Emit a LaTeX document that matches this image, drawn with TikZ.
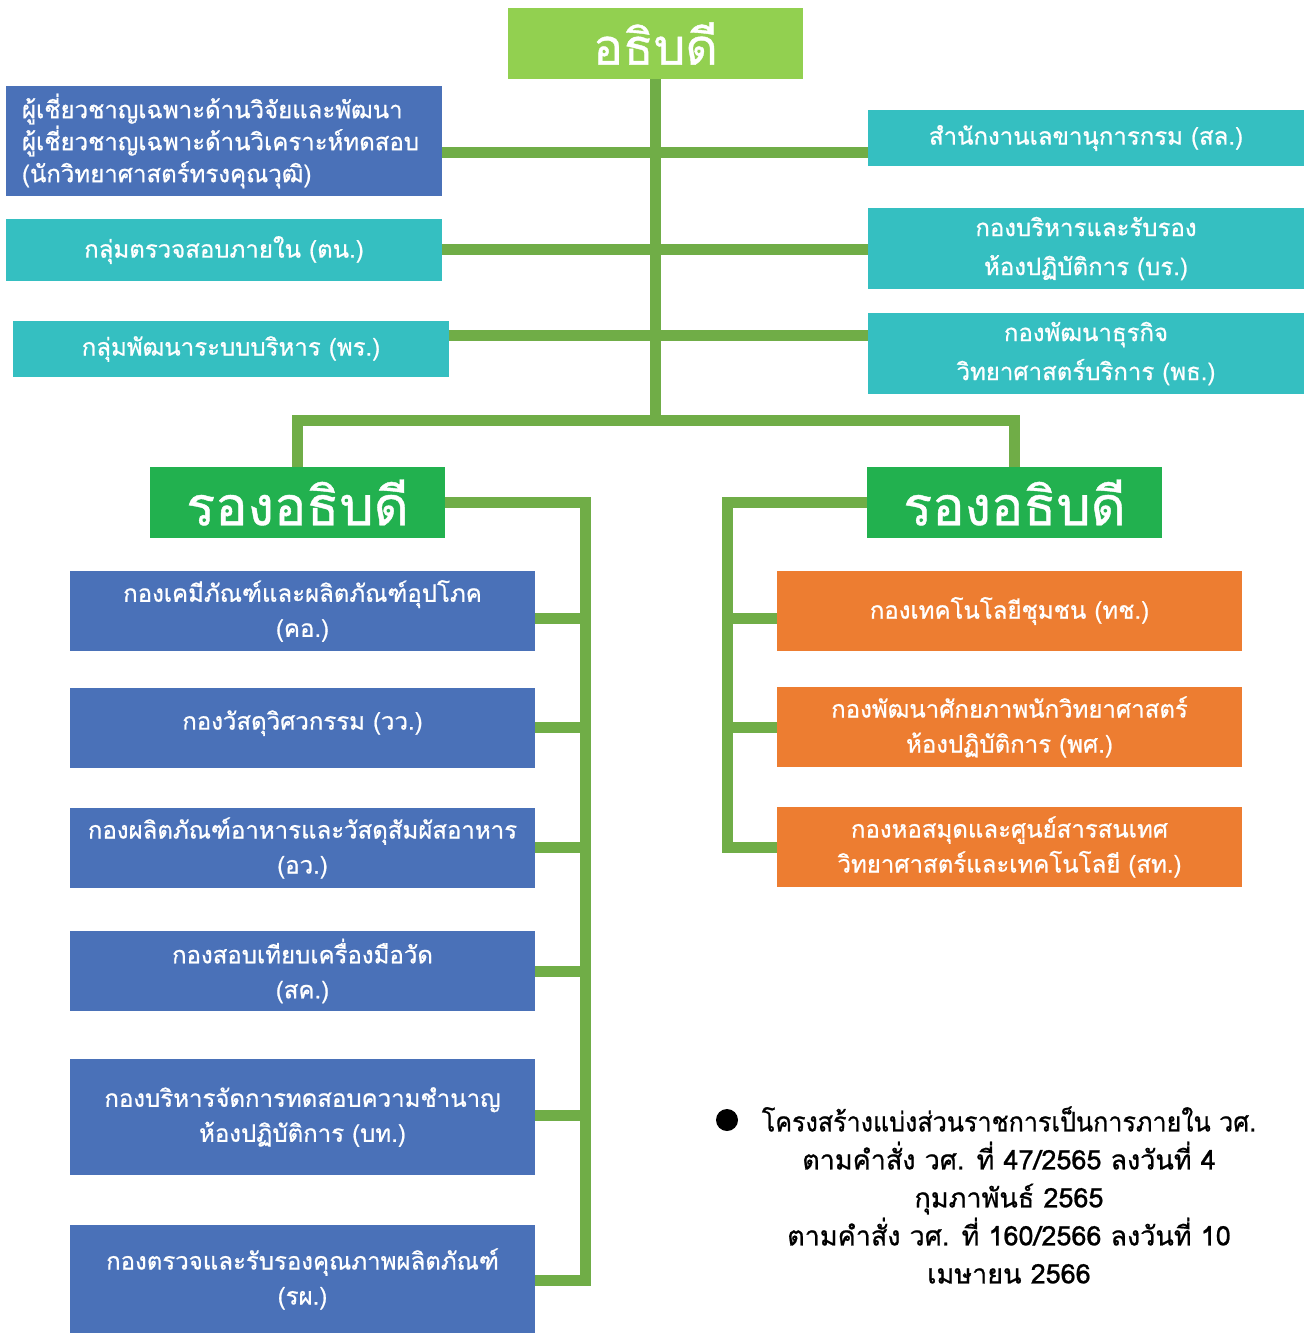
\documentclass[tikz,border=0pt]{standalone}
\usepackage{fontspec}
\setmainfont[Script=Thai, FakeBold=0.8]{Loma}
\definecolor{topgreen}{HTML}{92D050}
\definecolor{vpgreen}{HTML}{22B14F}
\definecolor{linegreen}{HTML}{70AD47}
\definecolor{boxblue}{HTML}{4A71B8}
\definecolor{boxteal}{HTML}{35BFC1}
\definecolor{boxorange}{HTML}{ED7D31}
\tikzset{
  box/.style={inner sep=0pt, text=white, align=center, anchor=center},
  conn/.style={draw=linegreen, line width=11pt},
  txt/.style={font=\fontsize{24}{34}\selectfont},
  txtt/.style={font=\fontsize{24}{35}\selectfont},
}
\begin{document}
\begin{tikzpicture}[x=1pt,y=-1pt]
\useasboundingbox (0,0) rectangle (1312,1334);
\coordinate (hub) at (655.5,420);
\coordinate (t1) at (655.5,152);
\coordinate (t2) at (655.5,249);
\coordinate (t3) at (655.5,335);
\coordinate (lb) at (585,1280);
\coordinate (rb) at (727,847);

% top
\node[box, fill=topgreen, minimum width=295, minimum height=71, font=\fontsize{50}{50}\selectfont] (top) at (655.5,43.5) {อธิบดี};
% left staff
\node[box, fill=boxblue, minimum width=436, minimum height=110, align=left, text width=404, font=\fontsize{24}{32}\selectfont] (a1) at (224,141) {ผู้เชี่ยวชาญเฉพาะด้านวิจัยและพัฒนา\\ผู้เชี่ยวชาญเฉพาะด้านวิเคราะห์ทดสอบ\\(นักวิทยาศาสตร์ทรงคุณวุฒิ)};
\node[box, fill=boxteal, minimum width=436, minimum height=62, txt] (a2) at (224,250) {กลุ่มตรวจสอบภายใน (ตน.)};
\node[box, fill=boxteal, minimum width=436, minimum height=56, txt] (a3) at (231,349) {กลุ่มพัฒนาระบบบริหาร (พร.)};
% right staff
\node[box, fill=boxteal, minimum width=436, minimum height=56, txt] (c1) at (1086,138) {สำนักงานเลขานุการกรม (สล.)};
\node[box, fill=boxteal, minimum width=436, minimum height=81, font=\fontsize{24}{39}\selectfont] (c2) at (1086,248.5) {กองบริหารและรับรอง\\ห้องปฏิบัติการ (บร.)};
\node[box, fill=boxteal, minimum width=436, minimum height=81, font=\fontsize{24}{39}\selectfont] (c3) at (1086,353.5) {กองพัฒนาธุรกิจ\\วิทยาศาสตร์บริการ (พธ.)};
% deputies
\node[box, fill=vpgreen, minimum width=295, minimum height=71, font=\fontsize{54}{54}\selectfont] (vpL) at (297.5,502.5) {รองอธิบดี};
\node[box, fill=vpgreen, minimum width=295, minimum height=71, font=\fontsize{54}{54}\selectfont] (vpR) at (1014.5,502.5) {รองอธิบดี};
% left divisions
\node[box, fill=boxblue, minimum width=465, minimum height=80, txtt] (b1) at (302.5,611) {กองเคมีภัณฑ์และผลิตภัณฑ์อุปโภค\\(คอ.)};
\node[box, fill=boxblue, minimum width=465, minimum height=80, txt] (b2) at (302.5,728) {กองวัสดุวิศวกรรม (วว.)\\[-18pt]};
\node[box, fill=boxblue, minimum width=465, minimum height=80, txtt] (b3) at (302.5,848) {กองผลิตภัณฑ์อาหารและวัสดุสัมผัสอาหาร\\(อว.)};
\node[box, fill=boxblue, minimum width=465, minimum height=80, txtt] (b4) at (302.5,971) {กองสอบเทียบเครื่องมือวัด\\(สค.)};
\node[box, fill=boxblue, minimum width=465, minimum height=116, txtt] (b5) at (302.5,1117) {กองบริหารจัดการทดสอบความชำนาญ\\ห้องปฏิบัติการ (บท.)};
\node[box, fill=boxblue, minimum width=465, minimum height=108, txtt] (b6) at (302.5,1279) {กองตรวจและรับรองคุณภาพผลิตภัณฑ์\\(รผ.)};
% right divisions
\node[box, fill=boxorange, minimum width=465, minimum height=80, txt] (o1) at (1009.5,611) {กองเทคโนโลยีชุมชน (ทช.)};
\node[box, fill=boxorange, minimum width=465, minimum height=80, txtt] (o2) at (1009.5,727) {กองพัฒนาศักยภาพนักวิทยาศาสตร์\\ห้องปฏิบัติการ (พศ.)};
\node[box, fill=boxorange, minimum width=465, minimum height=80, txtt] (o3) at (1009.5,847) {กองหอสมุดและศูนย์สารสนเทศ\\วิทยาศาสตร์และเทคโนโลยี (สท.)};

% connectors
\draw[conn] (top.south) -- (hub);
\draw[conn] (a1.east |- t1) -- (c1.west |- t1);
\draw[conn] (a2.east |- t2) -- (c2.west |- t2);
\draw[conn] (a3.east |- t3) -- (c3.west |- t3);
\draw[conn] (vpL.north) |- (hub) -| (vpR.north);
\draw[conn] (vpL.east) -| (lb) -- (b6.east |- lb);
\draw[conn] (b1.east |- 0,618) -- (lb |- 0,618);
\draw[conn] (b2.east |- 0,727) -- (lb |- 0,727);
\draw[conn] (b3.east |- 0,847) -- (lb |- 0,847);
\draw[conn] (b4.east |- 0,971) -- (lb |- 0,971);
\draw[conn] (b5.east |- 0,1115) -- (lb |- 0,1115);
\draw[conn] (vpR.west) -| (rb) -- (o3.west |- rb);
\draw[conn] (o1.west |- 0,618) -- (rb |- 0,618);
\draw[conn] (o2.west |- 0,727) -- (rb |- 0,727);

% note
\node[circle, fill=black, minimum size=22, inner sep=0pt] (bullet) at (727,1120) {};
\node[align=center, inner sep=0pt, font=\fontsize{27}{38}\selectfont] (note) at (1009,1195) {\scalebox{0.93}[1]{โครงสร้างแบ่งส่วนราชการเป็นการภายใน วศ.}\\ตามคำสั่ง วศ. ที่ 47/2565 ลงวันที่ 4\\กุมภาพันธ์ 2565\\ตามคำสั่ง วศ. ที่ 160/2566 ลงวันที่ 10\\เมษายน 2566};
\end{tikzpicture}
\end{document}
